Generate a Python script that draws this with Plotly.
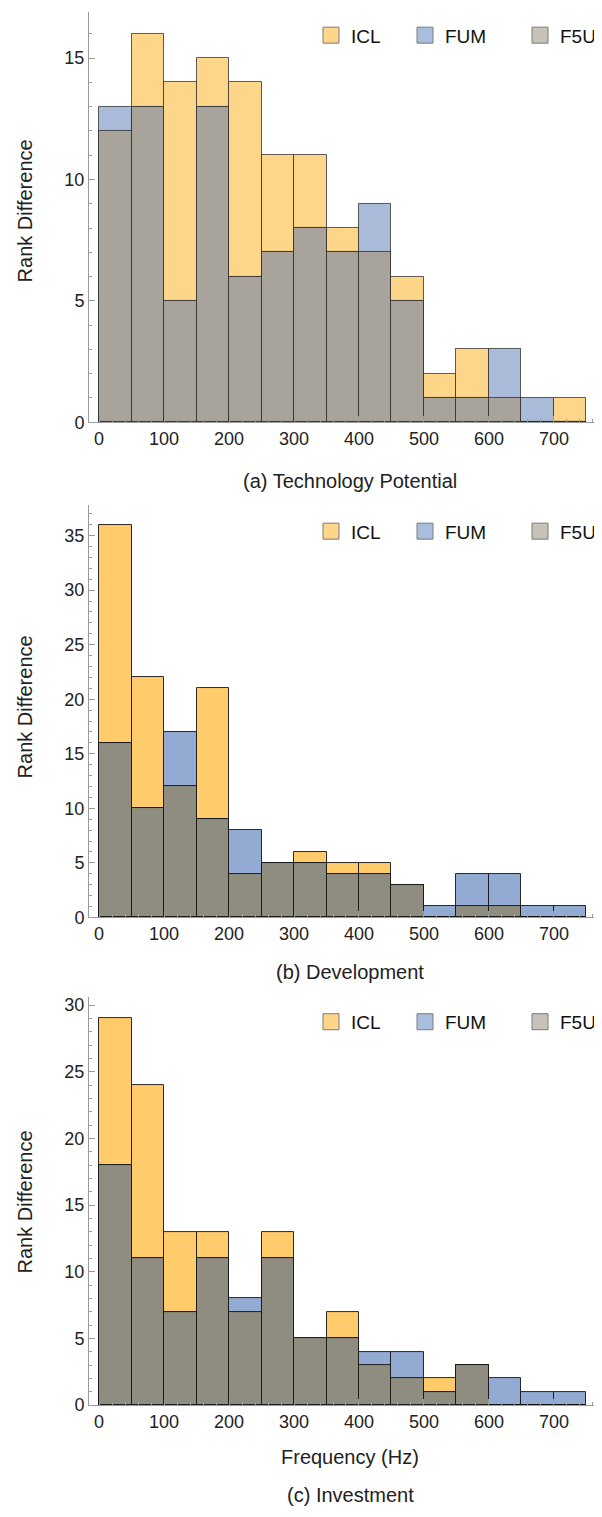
import plotly.graph_objects as go

# ---------------- data ----------------
bin_left = [0, 50, 100, 150, 200, 250, 300, 350, 400, 450, 500, 550, 600, 650, 700]
bin_width = 50
x_ticks = [0, 100, 200, 300, 400, 500, 600, 700]
series_names = ["ICL", "FUM", "F5U"]
panel_titles = ["(a) Technology Potential", "(b) Development", "(c) Investment"]
x_title = "Frequency (Hz)"
y_title = "Rank Difference"

icl_a = [12, 16, 14, 15, 14, 11, 11, 8, 7, 6, 2, 3, 1, 0, 1]
fum_a = [13, 13, 5, 13, 6, 7, 8, 7, 9, 5, 1, 1, 3, 1, 0]
f5u_a = [12, 13, 5, 13, 6, 7, 8, 7, 7, 5, 1, 1, 1, 0, 0]

icl_b = [36, 22, 12, 21, 4, 5, 6, 5, 5, 3, 0, 1, 1, 0, 0]
fum_b = [16, 10, 17, 9, 8, 5, 5, 4, 4, 3, 1, 4, 4, 1, 1]
f5u_b = [16, 10, 12, 9, 4, 5, 5, 4, 4, 3, 0, 1, 1, 0, 0]

icl_c = [29, 24, 13, 13, 7, 13, 5, 7, 3, 2, 2, 3, 0, 0, 0]
fum_c = [18, 11, 7, 11, 8, 11, 5, 5, 4, 4, 1, 3, 2, 1, 1]
f5u_c = [18, 11, 7, 11, 7, 11, 5, 5, 3, 2, 1, 3, 0, 0, 0]

panels = [
    (icl_a, fum_a, f5u_a),
    (icl_b, fum_b, f5u_b),
    (icl_c, fum_c, f5u_c),
]

# ---------------- style ----------------
PAGE_W, PAGE_H = 602, 1517
OFF = 8  # default body margin of the html page
W, H = PAGE_W - OFF, PAGE_H - OFF
FONT = "Liberation Sans, Arial, sans-serif"
bar_colors = [
    ["#FED68A", "#A9BBD8", "#A8A49C"],
    ["#FFCB6B", "#93ABD3", "#8F8C80"],
    ["#FFCB6B", "#93ABD3", "#8F8C80"],
]
edge_colors = ["rgba(40,40,40,0.75)", "rgba(20,20,20,0.9)", "rgba(20,20,20,0.9)"]
legend_colors = ["#FED68A", "#A9BEDD", "#C6C2BA"]

# pixel geometry (page coords) of each panel: (y of zero line, y of axis top, ymax)
geo = [(423.5, 10, 16.9), (922.7, 507, 37.8), (1414.3, 1003, 30.6)]
x_left_px, x_right_px = 89, 600
x_range = [-15.4, 770.8]
legend_px_y = [33.5, 533.5, 1028]
legend_sym_px_x = [331, 425, 540]
rank_y_px = [211, 711, 1210]
title_px_y = [483, 978, 1505]
TITLE_X = 350


def px_x(p):
    return (p - OFF) / W


def px_y(p):
    return 1 - (p - OFF) / H


fig = go.Figure()
layout = dict(
    width=W, height=H,
    margin=dict(l=0, r=0, t=0, b=0),
    paper_bgcolor="white", plot_bgcolor="white",
    barmode="overlay", bargap=0,
    font=dict(family=FONT, size=18, color="#222"),
    showlegend=True,
)

annotations = []
leg_idx = 0
for i, (vals_icl, vals_fum, vals_f5u) in enumerate(panels):
    xa = "x" if i == 0 else f"x{i+1}"
    ya = "y" if i == 0 else f"y{i+1}"
    for j, vals in enumerate([vals_icl, vals_fum, vals_f5u]):
        fig.add_trace(go.Bar(
            x=bin_left, y=vals, width=bin_width, offset=0,
            marker=dict(color=bar_colors[i][j],
                        line=dict(color=edge_colors[i], width=1)),
            name=series_names[j], showlegend=False,
            xaxis=xa, yaxis=ya, hoverinfo="skip",
        ))
    # legends (one entry each, placed like the original)
    for j, name in enumerate(series_names):
        leg_idx += 1
        lname = "legend" if leg_idx == 1 else f"legend{leg_idx}"
        fig.add_trace(go.Scatter(
            x=[None], y=[None], mode="markers", name=name,
            marker=dict(symbol="square", size=16, color=legend_colors[j],
                        line=dict(color="#7a7a7a", width=1)),
            xaxis=xa, yaxis=ya, legend=lname, showlegend=True,
        ))
        layout[lname] = dict(
            x=px_x(legend_sym_px_x[j] - 20), xanchor="left",
            y=px_y(legend_px_y[i]), yanchor="middle",
            bgcolor="rgba(0,0,0,0)", borderwidth=0,
            font=dict(family=FONT, size=19, color="#111"),
            itemsizing="trace", tracegroupgap=0,
        )
    y0, ytop, ymax = geo[i]
    xkey = "xaxis" if i == 0 else f"xaxis{i+1}"
    ykey = "yaxis" if i == 0 else f"yaxis{i+1}"
    layout[xkey] = dict(
        domain=[px_x(x_left_px), px_x(x_right_px)], anchor=ya,
        range=x_range, showgrid=False, zeroline=False,
        showline=True, linecolor="#9a9a9a", linewidth=1,
        ticks="inside", ticklen=6, tickcolor="#9a9a9a",
        tickvals=x_ticks, ticktext=[str(v) for v in x_ticks],
        minor=dict(dtick=20, ticks="inside", ticklen=3, tickcolor="#9a9a9a"),
        tickfont=dict(family=FONT, size=18, color="#222"),
        fixedrange=True,
    )
    layout[ykey] = dict(
        domain=[px_y(y0), px_y(ytop)], anchor=xa,
        range=[0, ymax], showgrid=False, zeroline=False,
        showline=True, linecolor="#9a9a9a", linewidth=1,
        ticks="inside", ticklen=6, tickcolor="#9a9a9a",
        dtick=5, tick0=0,
        minor=dict(dtick=1, ticks="inside", ticklen=3, tickcolor="#9a9a9a"),
        tickfont=dict(family=FONT, size=18, color="#222"),
        fixedrange=True,
    )
    annotations.append(dict(
        text=y_title, x=px_x(25), y=px_y(rank_y_px[i]),
        xref="paper", yref="paper", showarrow=False, textangle=-90,
        font=dict(family=FONT, size=20, color="#222"),
        xanchor="center", yanchor="middle",
    ))
    annotations.append(dict(
        text=panel_titles[i], x=px_x(TITLE_X), y=px_y(title_px_y[i]),
        xref="paper", yref="paper", showarrow=False,
        font=dict(family=FONT, size=20, color="#222"),
        xanchor="center", yanchor="middle",
    ))

annotations.append(dict(
    text=x_title, x=px_x(TITLE_X), y=px_y(1467),
    xref="paper", yref="paper", showarrow=False,
    font=dict(family=FONT, size=20, color="#222"),
    xanchor="center", yanchor="middle",
))
layout["annotations"] = annotations

fig.update_layout(**layout)
fig.write_html("out.html")
